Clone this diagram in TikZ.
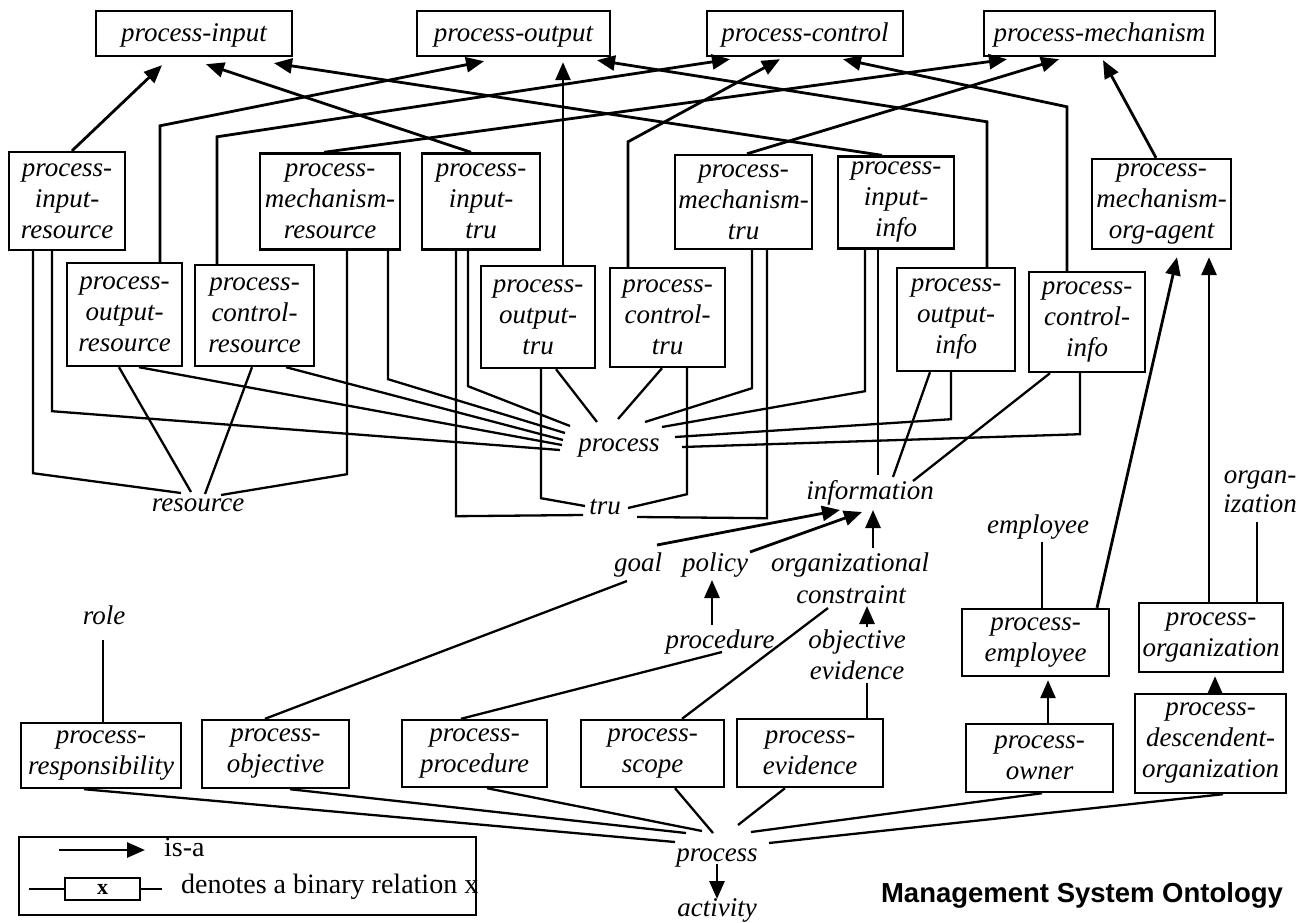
\documentclass[tikz,border=0pt]{standalone}
\usepackage{fontspec}
\setmainfont{Liberation Serif}
\newfontfamily\titlefont{Liberation Sans}
\usetikzlibrary{arrows.meta,calc}
\begin{document}
\begin{tikzpicture}[x=1pt,y=-1pt,
  box/.style={draw, line width=2.4pt, inner sep=0pt, align=center, font=\fontsize{27}{31}\selectfont\itshape, execute at begin node={\rule{0pt}{22pt}}},
  lbl/.style={inner sep=0pt, font=\fontsize{27}{31}\selectfont\itshape, text height=18pt, text depth=6pt},
  legtxt/.style={inner sep=0pt, anchor=west, font=\fontsize{28}{32}\selectfont, text height=19pt, text depth=6pt},
  isa/.style={line width=2.8pt, -{Triangle[length=18pt,width=15pt]}},
  rel/.style={line width=2.3pt},
]
\useasboundingbox (0,0) rectangle (1311,923);

% top row
\node[box, minimum width=196pt, minimum height=45pt] (A1) at (194,33.5) {process-input};
\node[box, minimum width=193pt, minimum height=45pt] (A2) at (513.5,33.5) {process-output};
\node[box, minimum width=196pt, minimum height=45pt] (A3) at (805,33.5) {process-control};
\node[box, minimum width=231pt, minimum height=45pt] (A4) at (1099.5,33.5) {process-mechanism};

% second row
\node[box, minimum width=116pt, minimum height=98pt] (B1) at (67,201) {process-\\input-\\resource};
\node[box, minimum width=140pt, minimum height=96pt] (B2) at (330,201.5) {process-\\mechanism-\\resource};
\node[box, minimum width=118pt, minimum height=96pt] (B3) at (481,201.5) {process-\\input-\\tru};
\node[box, minimum width=137pt, minimum height=94pt] (B4) at (743.5,202) {process-\\mechanism-\\tru};
\node[box, minimum width=116pt, minimum height=92pt] (B5) at (896,202.5) {process-\\input-\\info};
\node[box, minimum width=139pt, minimum height=90pt] (B6) at (1161.5,204) {process-\\mechanism-\\org-agent};

% third row
\node[box, minimum width=115pt, minimum height=103pt] (C1) at (124.5,314.5) {process-\\output-\\resource};
\node[box, minimum width=119pt, minimum height=101pt] (C2) at (254.5,315.5) {process-\\control-\\resource};
\node[box, minimum width=114pt, minimum height=102pt] (C3) at (538,317) {process-\\output-\\tru};
\node[box, minimum width=115pt, minimum height=99pt] (C4) at (667.5,317.5) {process-\\control-\\tru};
\node[box, minimum width=118pt, minimum height=103pt] (C5) at (956,319.5) {process-\\output-\\info};
\node[box, minimum width=116pt, minimum height=100pt] (C6) at (1087,322) {process-\\control-\\info};

% labels
\node[lbl] (proc) at (619,445) {process};
\node[lbl] (res) at (198,505) {resource};
\node[lbl] (tru) at (605,508) {tru};
\node[lbl] (info) at (870,493) {information};
\node[lbl] (goal) at (638,565) {goal};
\node[lbl] (policy) at (715,565) {policy};
\node[lbl] (orgl) at (850,565) {organizational};
\node[lbl] (constr) at (851,597) {constraint};
\node[lbl] (proced) at (720,642) {procedure};
\node[lbl] (objv) at (857,642) {objective};
\node[lbl] (evid) at (857,673) {evidence};
\node[lbl] (role) at (104,618) {role};
\node[lbl] (empl) at (1038,527) {employee};
\node[lbl] (organ) at (1260,477) {organ-};
\node[lbl] (iz) at (1260,506) {ization};
\node[lbl] (bp) at (717,855) {process};
\node[lbl] (act) at (717,910) {activity};

% bottom boxes
\node[box, minimum width=160pt, minimum height=65pt] (R) at (101,755.5) {process-\\responsibility};
\node[box, minimum width=147pt, minimum height=68pt] (O) at (275.5,754) {process-\\objective};
\node[box, minimum width=145pt, minimum height=67pt] (P) at (474.5,753.5) {process-\\procedure};
\node[box, minimum width=143pt, minimum height=67pt] (S) at (652.5,753.5) {process-\\scope};
\node[box, minimum width=146pt, minimum height=68pt] (E) at (810,753) {process-\\evidence};
\node[box, minimum width=147pt, minimum height=68pt] (W) at (1039.5,758) {process-\\owner};
\node[box, minimum width=151pt, minimum height=99pt] (D) at (1210.5,743.5) {process-\\descendent-\\organization};
\node[box, minimum width=147pt, minimum height=67pt] (EM) at (1035.5,642.5) {process-\\employee};
\node[box, minimum width=144pt, minimum height=69pt] (OG) at (1211,637.5) {process-\\organization};

% is-a arrows to top row
\draw[isa] ($(B1.north)+(5,0)$) -- ($(A1.south)+(-32,8)$);
\draw[isa] ($(B3.north)+(-10,0)$) -- ($(A1.south)+(12,7)$);
\draw[isa] ($(B5.north)+(-14,0)$) -- ($(A1.south)+(80,6)$);
\draw[isa] ($(C1.north)+(35.5,0)$) -- ++(0,-136) -- ($(A2.south)+(-29.5,4)$);
\draw[isa] ($(C3.north)+(25,0)$) -- ($(A2.south)+(49.5,5)$);
\draw[isa] ($(C5.north)+(31,0)$) -- ++(0,-145) -- ($(A2.south)+(83.5,3)$);
\draw[isa] ($(C2.north)+(-37.5,0)$) -- ++(0,-127) -- ($(A3.south)+(-75,2)$);
\draw[isa] ($(C4.north)+(-39.5,0)$) -- ++(0,-125) -- ($(A3.south)+(-25,2)$);
\draw[isa] ($(C6.north)+(-20,0)$) -- ++(0,-164) -- ($(A3.south)+(38,2)$);
\draw[isa] ($(B2.north)+(-6,0)$) -- ($(A4.south)+(-92.5,2)$);
\draw[isa] ($(B4.north)+(3.5,0)$) -- ($(A4.south)+(-40.5,2)$);
\draw[isa] ($(B6.north)+(-5.5,0)$) -- ($(A4.south)+(3.5,3)$);

% relations to process
\draw[rel] ($(B1.south)+(-15,0)$) -- ++(0,160) -- ($(proc)+(-59,5)$);
\draw[rel] ($(C1.south)+(14.5,0)$) -- ($(proc)+(-57,0)$);
\draw[rel] ($(C2.south)+(31.5,0)$) -- ($(proc)+(-56,-5)$);
\draw[rel] ($(B2.south)+(58,0)$) -- ++(0,128.5) -- ($(proc)+(-54,-12)$);
\draw[rel] ($(B3.south)+(-13,0)$) -- ++(0,135.5) -- ($(proc)+(-49,-19)$);
\draw[rel] ($(C3.south)+(18,0)$) -- ($(proc)+(-22,-23)$);
\draw[rel] ($(C4.south)+(-5.5,0)$) -- ($(proc)+(-1,-26)$);
\draw[rel] ($(B4.south)+(8.5,0)$) -- ++(0,138) -- ($(proc)+(26,-23)$);
\draw[rel] ($(B5.south)+(-31,0)$) -- ++(0,141.5) -- ($(proc)+(43,-18)$);
\draw[rel] ($(C5.south)+(-5,0)$) -- ++(0,47) -- ($(proc)+(56,-8)$);
\draw[rel] ($(C6.south)+(-7,0)$) -- ++(0,61) -- ($(proc)+(63,2)$);

% relations to resource
\draw[rel] ($(B1.south)+(-34,0)$) -- ++(0,222) -- ($(res)+(-17,-12)$);
\draw[rel] ($(C1.south)+(-5.5,0)$) -- ($(res)+(-7,-13)$);
\draw[rel] ($(C2.south)+(-2.5,0)$) -- ($(res)+(7,-11)$);
\draw[rel] ($(B2.south)+(17,0)$) -- ++(0,223.5) -- ($(res)+(23,-10)$);

% relations to tru
\draw[rel] ($(B3.south)+(-25,0)$) -- ++(0,265.5) -- ($(tru)+(-22,7)$);
\draw[rel] ($(C3.south)+(3,0)$) -- ++(0,129) -- ($(tru)+(-20,-2)$);
\draw[rel] ($(C4.south)+(19.5,0)$) -- ++(0,126) -- ($(tru)+(23,0)$);
\draw[rel] ($(B4.south)+(23.5,0)$) -- ++(0,268) -- ($(tru)+(32,9)$);

% relations to information
\draw[rel] ($(B5.south)+(-18,0)$) -- ($(info)+(8,-18)$);
\draw[rel] ($(C5.south)+(-26,0)$) -- ($(info)+(23,-16)$);
\draw[rel] ($(C6.south)+(-37,0)$) -- ($(info)+(43,-12)$);
\draw[isa] ($(goal)+(19,-20)$) -- ($(info)+(-30,17)$);
\draw[isa] ($(policy)+(35,-13)$) -- ($(info)+(-8,19)$);
\draw[isa] ($(orgl)+(23,-17)$) -- ($(info)+(3,17)$);
\draw[isa] ($(proced)+(-8,-17)$) -- ($(policy)+(-3,15)$);
\draw[isa] ($(objv)+(10,-15)$) -- ($(constr)+(16,9)$);

% lower relations
\draw[rel] ($(O.north)+(-10.5,0)$) -- ($(goal)+(-11,16)$);
\draw[rel] ($(P.north)+(-13.5,0)$) -- ($(proced)+(2,10)$);
\draw[rel] ($(S.north)+(29.5,0)$) -- ($(constr)+(-23,11)$);
\draw[rel] ($(E.north)+(57,0)$) -- ($(evid)+(10,10)$);
\draw[rel] ($(R.north)+(2,0)$) -- ($(role)+(-1,22)$);
\draw[rel] ($(EM.north)+(6.5,0)$) -- ($(empl)+(4,15)$);
\draw[rel] ($(OG.north)+(46,0)$) -- ($(iz)+(-3,16)$);
\draw[isa] ($(EM.north)+(61.5,0)$) -- ($(B6.south)+(15.5,7)$);
\draw[isa] ($(OG.north)+(-2,0)$) -- ($(B6.south)+(47.5,7)$);
\draw[isa] ($(W.north)+(8.5,0)$) -- ($(EM.south)+(12.5,3)$);
\draw[isa] ($(D.north)+(4.5,0)$) -- ($(OG.south)+(4,3)$);

% bottom process
\draw[rel] ($(R.south)+(-17,0)$) -- ($(bp)+(-42,-13)$);
\draw[rel] ($(O.south)+(14.5,0)$) -- ($(bp)+(-31,-22)$);
\draw[rel] ($(P.south)+(12.5,0)$) -- ($(bp)+(-15,-24)$);
\draw[rel] ($(S.south)+(22.5,0)$) -- ($(bp)+(-4,-22)$);
\draw[rel] ($(E.south)+(-25,0)$) -- ($(bp)+(21,-30)$);
\draw[rel] ($(W.south)+(2.5,0)$) -- ($(bp)+(34,-23)$);
\draw[rel] ($(D.south)+(12.5,0)$) -- ($(bp)+(52,-12)$);
\draw[isa] ($(bp)+(0,9)$) -- ($(act)+(0,-11)$);

% legend
\node[draw, line width=2.2pt, minimum width=457pt, minimum height=78pt, inner sep=0pt] (leg) at (247.5,876) {};
\coordinate (la) at (59,850);
\coordinate (lb) at (145,850);
\draw[isa] (la) -- (lb);
\node[legtxt] (isatxt) at (164,850) {is-a};
\node[draw, line width=2.2pt, minimum width=75pt, minimum height=22pt, inner sep=0pt, font=\fontsize{22}{24}\selectfont\bfseries] (xb) at (102.5,889) {x};
\coordinate (lc) at (29,889);
\coordinate (ld) at (162,889);
\draw[rel] (lc) -- (xb.west);
\draw[rel] (xb.east) -- (ld);
\node[legtxt] (dtxt) at (181,887) {denotes a binary relation x};

% title
\node[inner sep=0pt, font=\titlefont\bfseries\fontsize{27.5}{30}\selectfont] (title) at (1082,895) {Management System Ontology};
\end{tikzpicture}
\end{document}
